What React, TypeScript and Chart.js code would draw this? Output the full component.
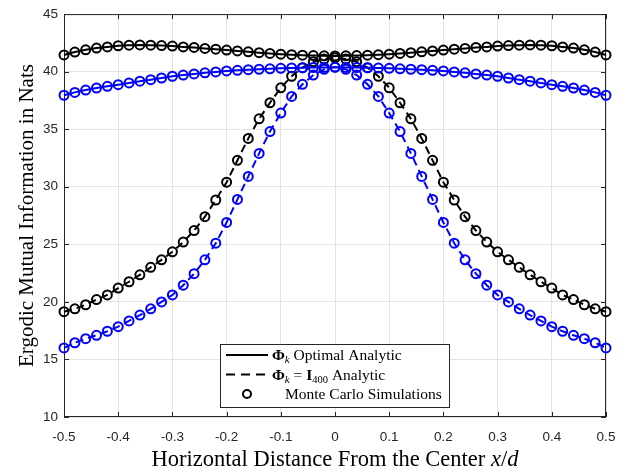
import React, { useEffect, useRef } from 'react';
import { Chart, registerables } from 'chart.js';

Chart.register(...registerables);

// Horizontal positions x/d of the evaluated user locations
const xPositions = [
  -0.5, -0.48, -0.46, -0.44, -0.42, -0.4, -0.38, -0.36, -0.34, -0.32, -0.3,
  -0.28, -0.26, -0.24, -0.22, -0.2, -0.18, -0.16, -0.14, -0.12, -0.1,
  -0.08, -0.06, -0.04, -0.02, 0, 0.02, 0.04, 0.06, 0.08, 0.1,
  0.12, 0.14, 0.16, 0.18, 0.2, 0.22, 0.24, 0.26, 0.28, 0.3,
  0.32, 0.34, 0.36, 0.38, 0.4, 0.42, 0.44, 0.46, 0.48, 0.5,
];

// Optimal phase configuration, user group 1 (black, solid)
const optimalBlack = [
  41.45, 41.7, 41.9, 42.05, 42.15, 42.25, 42.3, 42.32, 42.3, 42.27, 42.22,
  42.15, 42.1, 42.02, 41.95, 41.88, 41.8, 41.72, 41.65, 41.58, 41.52,
  41.47, 41.43, 41.4, 41.38, 41.37, 41.38, 41.4, 41.43, 41.47, 41.52,
  41.58, 41.65, 41.72, 41.8, 41.88, 41.95, 42.02, 42.1, 42.15, 42.22,
  42.27, 42.3, 42.32, 42.3, 42.25, 42.15, 42.05, 41.9, 41.7, 41.45,
];

// Optimal phase configuration, user group 2 (blue, solid)
const optimalBlue = [
  37.95, 38.2, 38.4, 38.58, 38.73, 38.87, 39.02, 39.17, 39.3, 39.45, 39.6,
  39.7, 39.8, 39.9, 39.98, 40.06, 40.12, 40.17, 40.21, 40.25, 40.29,
  40.32, 40.34, 40.36, 40.37, 40.38, 40.37, 40.36, 40.34, 40.32, 40.29,
  40.25, 40.21, 40.17, 40.12, 40.06, 39.98, 39.9, 39.8, 39.7, 39.6,
  39.45, 39.3, 39.17, 39.02, 38.87, 38.73, 38.58, 38.4, 38.2, 37.95,
];

// Identity phase configuration, user group 1 (black, dashed)
const identityBlack = [
  19.15, 19.4, 19.75, 20.2, 20.6, 21.2, 21.75, 22.35, 23.0, 23.65, 24.35,
  25.2, 26.2, 27.4, 28.85, 30.4, 32.3, 34.2, 35.9, 37.3, 38.6,
  39.6, 40.35, 40.85, 41.1, 41.2, 41.1, 40.85, 40.35, 39.6, 38.6,
  37.3, 35.9, 34.2, 32.3, 30.4, 28.85, 27.4, 26.2, 25.2, 24.35,
  23.65, 23.0, 22.35, 21.75, 21.2, 20.6, 20.2, 19.75, 19.4, 19.15,
];

// Identity phase configuration, user group 2 (blue, dashed)
const identityBlue = [
  16.0, 16.45, 16.8, 17.1, 17.45, 17.85, 18.35, 18.85, 19.4, 20.0, 20.6,
  21.45, 22.45, 23.65, 25.1, 26.9, 28.9, 30.9, 32.9, 34.8, 36.4,
  37.85, 38.9, 39.7, 40.2, 40.4, 40.2, 39.7, 38.9, 37.85, 36.4,
  34.8, 32.9, 30.9, 28.9, 26.9, 25.1, 23.65, 22.45, 21.45, 20.6,
  20.0, 19.4, 18.85, 18.35, 17.85, 17.45, 17.1, 16.8, 16.45, 16.0,
];

const xTickValues = [-0.5, -0.4, -0.3, -0.2, -0.1, 0, 0.1, 0.2, 0.3, 0.4, 0.5];
const xTickLabels = ['-0.5', '-0.4', '-0.3', '-0.2', '-0.1', '0', '0.1', '0.2', '0.3', '0.4', '0.5'];
const yTickValues = [10, 15, 20, 25, 30, 35, 40, 45];
const yTickLabels = ['10', '15', '20', '25', '30', '35', '40', '45'];

const BLACK = '#000000';
const BLUE = '#0000ff';
const AXIS = '#262626';
const SERIF = '"Liberation Serif", "Times New Roman", serif';
const SANS = '"Liberation Sans", Arial, Helvetica, sans-serif';

type Run = { t: string; font: string; dy?: number };

function runsWidth(ctx: CanvasRenderingContext2D, runs: Run[]) {
  let w = 0;
  for (const r of runs) {
    ctx.font = r.font;
    w += ctx.measureText(r.t).width;
  }
  return w;
}

function drawRuns(ctx: CanvasRenderingContext2D, runs: Run[], x: number, y: number) {
  let cx = x;
  for (const r of runs) {
    ctx.font = r.font;
    ctx.fillText(r.t, cx, y + (r.dy || 0));
    cx += ctx.measureText(r.t).width;
  }
}

const decorations = {
  id: 'decorations',
  beforeDatasetsDraw(chart: any) {
    const { ctx, chartArea: a, scales } = chart;
    ctx.save();
    ctx.strokeStyle = AXIS;
    ctx.lineWidth = 1;
    ctx.strokeRect(a.left + 0.5, a.top + 0.5, a.right - a.left - 1, a.bottom - a.top - 1);
    const tl = 5;
    ctx.beginPath();
    for (const v of xTickValues) {
      const px = Math.round(scales.x.getPixelForValue(v)) + 0.5;
      ctx.moveTo(px, a.bottom);
      ctx.lineTo(px, a.bottom - tl);
      ctx.moveTo(px, a.top);
      ctx.lineTo(px, a.top + tl);
    }
    for (const v of yTickValues) {
      const py = Math.round(scales.y.getPixelForValue(v)) + 0.5;
      ctx.moveTo(a.left, py);
      ctx.lineTo(a.left + tl, py);
      ctx.moveTo(a.right, py);
      ctx.lineTo(a.right - tl, py);
    }
    ctx.stroke();
    ctx.restore();
  },
  afterDatasetsDraw(chart: any) {
    const { ctx } = chart;
    ctx.save();
    // legend box
    const bx = 220, by = 344, bw = 229, bh = 63;
    ctx.fillStyle = '#ffffff';
    ctx.fillRect(bx, by, bw, bh);
    ctx.strokeStyle = AXIS;
    ctx.lineWidth = 1;
    ctx.strokeRect(bx + 0.5, by + 0.5, bw, bh);

    const rows = [355, 374.5, 394];
    const lx0 = 226, lx1 = 268;
    ctx.strokeStyle = BLACK;
    ctx.lineWidth = 2;
    ctx.beginPath();
    ctx.moveTo(lx0, rows[0]);
    ctx.lineTo(lx1, rows[0]);
    ctx.stroke();
    ctx.setLineDash([9, 6]);
    ctx.beginPath();
    ctx.moveTo(lx0, rows[1]);
    ctx.lineTo(lx1, rows[1]);
    ctx.stroke();
    ctx.setLineDash([]);
    ctx.beginPath();
    ctx.arc((lx0 + lx1) / 2, rows[2], 4, 0, Math.PI * 2);
    ctx.stroke();

    ctx.fillStyle = BLACK;
    ctx.textBaseline = 'alphabetic';
    ctx.textAlign = 'left';
    const reg = `15.5px ${SERIF}`;
    const bold = `bold 15.5px ${SERIF}`;
    const subI = `italic 11px ${SERIF}`;
    const sub = `10.5px ${SERIF}`;
    drawRuns(ctx, [
      { t: 'Φ', font: bold },
      { t: 'k', font: subI, dy: 3 },
      { t: ' Optimal Analytic', font: reg },
    ], 272, rows[0] + 5);
    drawRuns(ctx, [
      { t: 'Φ', font: bold },
      { t: 'k', font: subI, dy: 3 },
      { t: ' = ', font: reg },
      { t: 'I', font: bold },
      { t: '400', font: sub, dy: 3 },
      { t: ' Analytic', font: reg },
    ], 272, rows[1] + 5);
    drawRuns(ctx, [{ t: 'Monte Carlo Simulations', font: reg }], 285, rows[2] + 5);
    ctx.restore();
  },
  afterDraw(chart: any) {
    const { ctx, chartArea: a } = chart;
    ctx.save();
    ctx.fillStyle = BLACK;
    ctx.textBaseline = 'middle';
    ctx.textAlign = 'left';
    const tFont = `22.5px ${SERIF}`;
    const tItal = `italic 22.5px ${SERIF}`;
    const xRuns: Run[] = [
      { t: 'Horizontal Distance From the Center ', font: tFont },
      { t: 'x', font: tItal },
      { t: '/', font: tFont },
      { t: 'd', font: tItal },
    ];
    const cx = (a.left + a.right) / 2;
    const w = runsWidth(ctx, xRuns);
    drawRuns(ctx, xRuns, cx - w / 2, 460);

    ctx.translate(27, (a.top + a.bottom) / 2);
    ctx.rotate(-Math.PI / 2);
    ctx.textAlign = 'center';
    ctx.font = `21px ${SERIF}`;
    ctx.fillText('Ergodic Mutual Information in Nats', 0, 0);
    ctx.restore();
  },
};

function makeDataset(label: string, values: number[], color: string, dashed: boolean) {
  return {
    label,
    data: xPositions.map((x, i) => ({ x, y: values[i] })),
    borderColor: color,
    borderWidth: 2,
    borderDash: dashed ? [8, 5] : [],
    pointStyle: 'circle' as const,
    pointRadius: 4.5,
    pointBorderWidth: 2,
    pointBorderColor: color,
    pointBackgroundColor: 'rgba(0,0,0,0)',
    tension: 0,
    clip: false as any,
  };
}

export default function App() {
  const canvasRef = useRef<HTMLCanvasElement | null>(null);

  useEffect(() => {
    document.body.style.margin = '0';
    const canvas = canvasRef.current;
    if (!canvas) return;
    const chart = new Chart(canvas, {
      type: 'line',
      data: {
        datasets: [
          makeDataset('Optimal, group 1', optimalBlack, BLACK, false),
          makeDataset('Optimal, group 2', optimalBlue, BLUE, false),
          makeDataset('Identity, group 1', identityBlack, BLACK, true),
          makeDataset('Identity, group 2', identityBlue, BLUE, true),
        ],
      },
      options: {
        responsive: false,
        animation: false,
        devicePixelRatio: 1,
        layout: { padding: { top: 8, right: 27, left: 0, bottom: 0 } },
        plugins: {
          legend: { display: false },
          tooltip: { enabled: false },
        },
        scales: {
          x: {
            type: 'linear',
            min: -0.5,
            max: 0.5,
            afterBuildTicks: (s: any) => {
              s.ticks = xTickValues.map((v) => ({ value: v }));
            },
            afterFit: (s: any) => {
              s.height = 55;
            },
            ticks: {
              autoSkip: false,
              maxRotation: 0,
              padding: 12,
              color: AXIS,
              font: { family: SANS, size: 13.5 },
              callback: (_v: any, i: number) => xTickLabels[i],
            },
            grid: { color: '#e3e3e3', lineWidth: 1, drawTicks: false },
            border: { display: false },
          },
          y: {
            type: 'linear',
            min: 10,
            max: 45,
            afterBuildTicks: (s: any) => {
              s.ticks = yTickValues.map((v) => ({ value: v }));
            },
            afterFit: (s: any) => {
              s.width = 64;
            },
            ticks: {
              autoSkip: false,
              padding: 6,
              color: AXIS,
              font: { family: SANS, size: 13.5 },
              callback: (_v: any, i: number) => yTickLabels[i],
            },
            grid: { color: '#e3e3e3', lineWidth: 1, drawTicks: false },
            border: { display: false },
          },
        },
      } as any,
      plugins: [decorations],
    });
    return () => chart.destroy();
  }, []);

  return (
    <div style={{ width: 633, height: 472 }}>
      <canvas ref={canvasRef} width={633} height={472} />
    </div>
  );
}
